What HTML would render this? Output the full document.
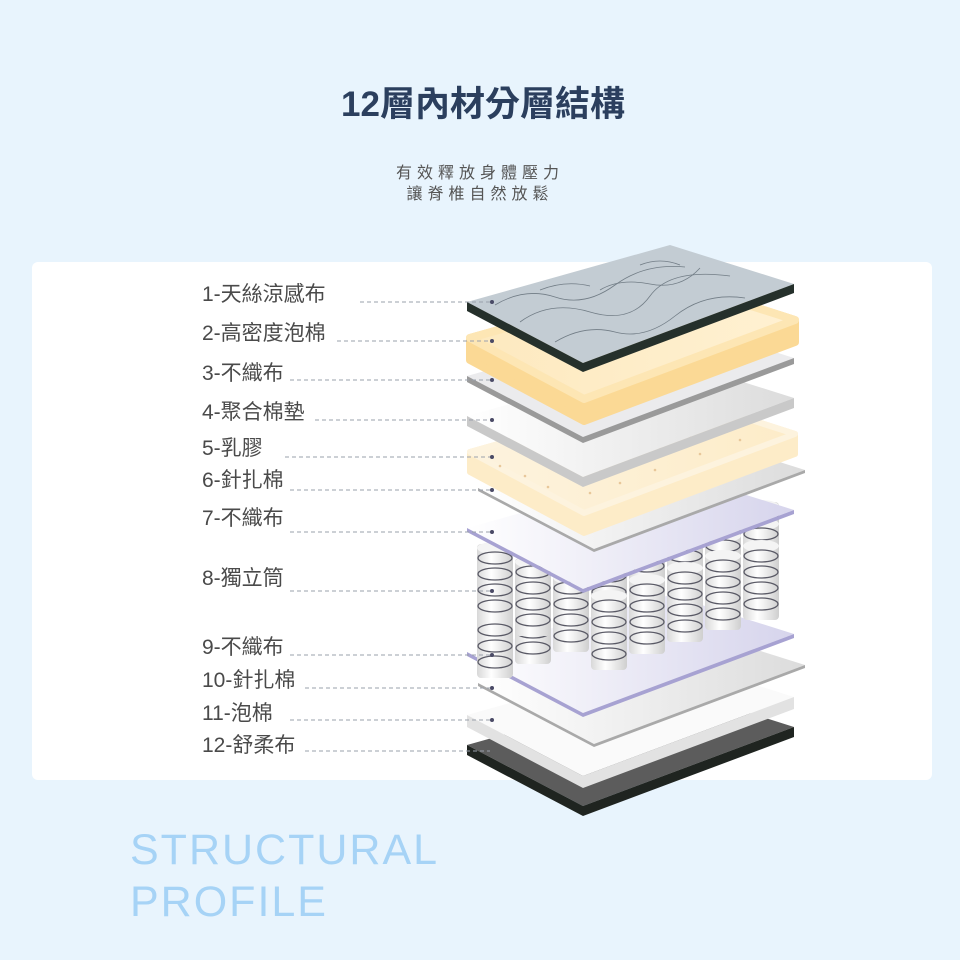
<!DOCTYPE html>
<html><head><meta charset="utf-8"><style>
html,body{margin:0;padding:0;background:#e8f4fd;}
svg{display:block;}
</style></head><body>
<svg width="960" height="960" viewBox="0 0 960 960" xmlns="http://www.w3.org/2000/svg">
<defs>
<linearGradient id="cyl" x1="0" x2="1" y1="0" y2="0">
<stop offset="0" stop-color="#d8d8d8"/><stop offset="0.4" stop-color="#ffffff"/><stop offset="1" stop-color="#cfcfcf"/>
</linearGradient>
<linearGradient id="purp" x1="0" x2="1" y1="0" y2="0">
<stop offset="0" stop-color="#ffffff"/><stop offset="1" stop-color="#d6d4ec"/>
</linearGradient>
<linearGradient id="gray" x1="0" x2="1" y1="0" y2="0">
<stop offset="0" stop-color="#ffffff"/><stop offset="1" stop-color="#dcdcdc"/>
</linearGradient>
<linearGradient id="cream" x1="0" x2="1" y1="0" y2="0">
<stop offset="0" stop-color="#fdf3de"/><stop offset="1" stop-color="#fdecc8"/>
</linearGradient>
<linearGradient id="foam" x1="0" x2="1" y1="0" y2="0">
<stop offset="0" stop-color="#fde9bf"/><stop offset="1" stop-color="#fff1d2"/>
</linearGradient>
<g id="spring">
<rect x="-18" y="0" width="36" height="78" rx="4" fill="url(#cyl)"/>
<ellipse cx="0" cy="4" rx="18" ry="6" fill="#f4f4f4"/>
<g fill="none" stroke="#5a5a66" stroke-width="1.3">
<ellipse cx="0" cy="14" rx="17" ry="6"/><ellipse cx="0" cy="30" rx="17" ry="6"/>
<ellipse cx="0" cy="46" rx="17" ry="6"/><ellipse cx="0" cy="62" rx="17" ry="6"/>
</g>
</g>
</defs>
<rect width="960" height="960" fill="#e8f4fd"/>
<text x="483" y="116" text-anchor="middle" font-family="Liberation Sans, Noto Sans CJK TC, sans-serif" font-size="35" font-weight="bold" fill="#2b3f5e">12層內材分層結構</text>
<text x="480" y="178" text-anchor="middle" font-family="Liberation Sans, Noto Sans CJK TC, sans-serif" font-size="16" letter-spacing="5" fill="#555">有效釋放身體壓力</text>
<text x="480" y="199" text-anchor="middle" font-family="Liberation Sans, Noto Sans CJK TC, sans-serif" font-size="16" letter-spacing="5" fill="#555">讓脊椎自然放鬆</text>
<rect x="32" y="262" width="900" height="518" rx="6" fill="#ffffff"/>

<!-- layer 12 -->
<polygon points="467,745 670,688 794,727 583,806" fill="#5c5c5c"/>
<polygon points="467,745 583,806 794,727 794,737 583,816 467,755" fill="#1f2420"/>
<!-- layer 11 -->
<polygon points="467,715 670,658 794,697 583,776" fill="#fafafa"/>
<polygon points="467,715 583,776 794,697 794,709 583,788 467,727" fill="#e2e2e2"/>
<!-- layer 10 -->
<polygon points="478,683 681,626 805,665 594,744" fill="url(#gray)"/>
<polygon points="478,683 594,744 805,665 805,668 594,747 478,686" fill="#a9a9a9"/>
<!-- layer 9 -->
<polygon points="467,652 670,595 794,634 583,713" fill="url(#purp)"/>
<polygon points="467,652 583,713 794,634 794,638 583,717 467,656" fill="#a7a2d2"/>

<!-- springs -->
<g transform="translate(0,-8)">
<g>
<use href="#spring" x="761" y="510"/><use href="#spring" x="723" y="524"/><use href="#spring" x="685" y="538"/><use href="#spring" x="647" y="552"/><use href="#spring" x="609" y="566"/><use href="#spring" x="571" y="580"/><use href="#spring" x="533" y="594"/><use href="#spring" x="495" y="608"/>
</g>
<g>
<use href="#spring" x="761" y="528"/><use href="#spring" x="723" y="540"/><use href="#spring" x="685" y="550"/><use href="#spring" x="647" y="560"/><use href="#spring" x="609" y="570"/>
<use href="#spring" x="495" y="552"/>
</g>
<g>
<use href="#spring" x="761" y="550"/><use href="#spring" x="723" y="560"/><use href="#spring" x="685" y="572"/><use href="#spring" x="647" y="584"/>
<use href="#spring" x="533" y="566"/>
</g>
<g>
<use href="#spring" x="571" y="582"/><use href="#spring" x="609" y="600"/>
</g>
</g>

<!-- layer 7 -->
<polygon points="467,528 670,471 794,510 583,589" fill="url(#purp)"/>
<polygon points="467,528 583,589 794,510 794,514 583,593 467,532" fill="#a7a2d2"/>
<!-- layer 6 -->
<polygon points="478,488 681,431 805,470 594,549" fill="url(#gray)"/>
<polygon points="478,488 594,549 805,470 805,473 594,552 478,491" fill="#a9a9a9"/>
<!-- layer 5 latex -->
<polygon points="470,452 673,395 795,434 795,454 584,533 470,472" fill="#fdecc8" stroke="#fdecc8" stroke-width="6" stroke-linejoin="round"/>
<polygon points="470,452 673,395 795,434 584,513" fill="url(#cream)" stroke="#fdf3de" stroke-width="6" stroke-linejoin="round"/>
<g fill="#e8c79a">
<circle cx="500" cy="466" r="1.3"/><circle cx="525" cy="476" r="1.3"/><circle cx="548" cy="487" r="1.3"/><circle cx="570" cy="476" r="1.3"/><circle cx="600" cy="470" r="1.3"/><circle cx="630" cy="458" r="1.3"/><circle cx="660" cy="448" r="1.3"/><circle cx="690" cy="436" r="1.3"/><circle cx="720" cy="428" r="1.3"/><circle cx="750" cy="420" r="1.3"/><circle cx="590" cy="493" r="1.3"/><circle cx="620" cy="483" r="1.3"/><circle cx="655" cy="470" r="1.3"/><circle cx="700" cy="454" r="1.3"/><circle cx="740" cy="440" r="1.3"/>
</g>
<!-- layer 4 -->
<polygon points="467,416 670,359 794,398 583,477" fill="url(#gray)"/>
<polygon points="467,416 583,477 794,398 794,408 583,487 467,426" fill="#c9c9c9"/>
<!-- layer 3 -->
<polygon points="467,376 670,319 794,358 583,437" fill="#ebebed"/>
<polygon points="467,376 583,437 794,358 794,364 583,443 467,382" fill="#9a9a9a"/>
<!-- layer 2 foam -->
<polygon points="470,338 673,281 795,320 795,342 584,421 470,360" fill="#fbd995" stroke="#fbd995" stroke-width="8" stroke-linejoin="round"/>
<polygon points="470,338 673,281 795,320 584,399" fill="url(#foam)" stroke="#fde6b4" stroke-width="8" stroke-linejoin="round"/>
<!-- layer 1 -->
<polygon points="467,302 670,245 794,284 583,363" fill="#c3ccd3"/>
<g fill="none" stroke="#56626c" stroke-width="0.8" opacity="0.75">
<path d="M495,305 q30,-18 60,-8 t60,-12 t70,-18"/><path d="M520,322 q30,-22 70,-10 t60,-16 t80,-20"/><path d="M555,342 q30,-18 60,-10 t60,-16 t70,-18"/><path d="M600,290 q20,-12 50,-6 t50,-16"/><path d="M540,290 q25,-10 50,-4"/><path d="M640,265 q20,-8 40,0"/>
</g>
<polygon points="467,302 583,363 794,284 794,293 583,372 467,311" fill="#25302b"/>

<!-- labels -->
<g font-family="Liberation Sans, Noto Sans CJK TC, sans-serif" font-size="21" fill="#4a4a4a">
<text x="202" y="301">1-天絲涼感布</text>
<text x="202" y="340">2-高密度泡棉</text>
<text x="202" y="380">3-不織布</text>
<text x="202" y="419">4-聚合棉墊</text>
<text x="202" y="455">5-乳膠</text>
<text x="202" y="487">6-針扎棉</text>
<text x="202" y="525">7-不織布</text>
<text x="202" y="585">8-獨立筒</text>
<text x="202" y="654">9-不織布</text>
<text x="202" y="687">10-針扎棉</text>
<text x="202" y="720">11-泡棉</text>
<text x="202" y="752">12-舒柔布</text>
</g>
<g stroke="#9aa0ab" stroke-width="1" stroke-dasharray="4,3">
<line x1="360" y1="302" x2="490" y2="302"/><line x1="337" y1="341" x2="490" y2="341"/>
<line x1="290" y1="380" x2="490" y2="380"/><line x1="315" y1="420" x2="490" y2="420"/>
<line x1="285" y1="457" x2="490" y2="457"/><line x1="290" y1="490" x2="490" y2="490"/>
<line x1="290" y1="532" x2="490" y2="532"/><line x1="290" y1="591" x2="490" y2="591"/>
<line x1="290" y1="655" x2="490" y2="655"/><line x1="305" y1="688" x2="490" y2="688"/>
<line x1="290" y1="720" x2="490" y2="720"/><line x1="305" y1="751" x2="490" y2="751"/>
</g>
<g fill="#4a4a66">
<circle cx="492" cy="302" r="2"/><circle cx="492" cy="341" r="2"/><circle cx="492" cy="380" r="2"/><circle cx="492" cy="420" r="2"/><circle cx="492" cy="457" r="2"/><circle cx="492" cy="490" r="2"/><circle cx="492" cy="532" r="2"/><circle cx="492" cy="591" r="2"/><circle cx="492" cy="655" r="2"/><circle cx="492" cy="688" r="2"/><circle cx="492" cy="720" r="2"/>
</g>

<g font-family="Liberation Sans, sans-serif" font-size="43" fill="#a6d3f6" letter-spacing="2">
<text x="130" y="864">STRUCTURAL</text>
<text x="130" y="916">PROFILE</text>
</g>
</svg>
</body></html>
